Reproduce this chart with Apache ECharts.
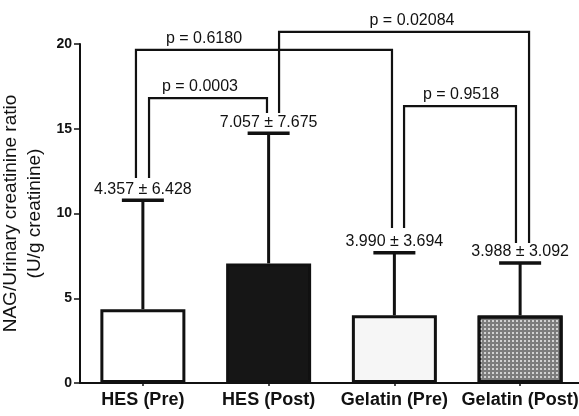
<!DOCTYPE html>
<html><head><meta charset="utf-8">
<script src="https://cdn.jsdelivr.net/npm/echarts@6/dist/echarts.min.js"></script>
<style>html,body{margin:0;padding:0;background:#fff}#c{width:579px;height:416px}</style>
</head><body><div id="c"></div>
<script>
var categories = ['HES (Pre)', 'HES (Post)', 'Gelatin (Pre)', 'Gelatin (Post)'];
var means = [4.357, 7.057, 3.990, 3.988];
var sds = [6.428, 7.675, 3.694, 3.092];
var barColors = ['#ffffff', '#161616', '#f6f6f6', '#7c7c7c'];
var yTicks = [0, 5, 10, 15, 20];
// brackets: [leftX, rightX, topY, leftBottomY, rightBottomY, labelX]
var bracketGeom = [
  [-0.055, 1.981, 19.65, 12.09, 9.14, 0.486],
  [0.049, 0.987, 16.81, 12.09, 15.93, 0.454],
  [1.083, 3.071, 20.71, 15.93, 8.26, 2.140],
  [2.077, 2.967, 16.34, 9.14, 8.26, 2.530]
];
var bracketLabels = ['p = 0.6180', 'p = 0.0003', 'p = 0.02084', 'p = 0.9518'];

var chart = echarts.init(document.getElementById('c'));
var font = 'Liberation Sans, Arial, sans-serif';

var barData = means.map(function (m, i) {
  var item = { value: m, itemStyle: { color: barColors[i] } };
  if (i === 3) {
    item.itemStyle.decal = { symbol: 'rect', symbolSize: 1, color: 'rgba(230,230,230,0.8)', dashArrayX: [2, 2], dashArrayY: [2, 2], rotation: 0 };
  }
  return item;
});

var errData = means.map(function (m, i) { return [i, m, m + sds[i], means[i].toFixed(3) + ' \u00b1 ' + sds[i].toFixed(3)]; });

chart.setOption({
  animation: false,
  grid: { left: 80, right: -4, top: 44, bottom: 33, containLabel: false, outerBoundsMode: 'none' },
  xAxis: [{
    type: 'category', data: categories,
    axisLine: { lineStyle: { color: '#111', width: 2 } },
    axisTick: { show: true, alignWithLabel: true, length: 3, lineStyle: { color: '#111', width: 1.5 } },
    axisLabel: { color: '#111', fontFamily: font, fontWeight: 'bold', fontSize: 18, margin: 8, interval: 0 }
  }, {
    type: 'value', min: -0.5, max: 3.5, show: false, gridIndex: 0
  }],
  yAxis: {
    type: 'value', min: 0, max: 20, interval: 5,
    name: 'NAG/Urinary creatinine ratio\n(U/g creatinine)',
    nameLocation: 'middle', nameGap: 33, nameRotate: 90, nameMoveOverlap: false,
    nameTextStyle: { color: '#111', fontFamily: font, fontSize: 19, lineHeight: 24, padding: [6, 0, 0, 0] },
    axisLine: { show: true, onZero: false, lineStyle: { color: '#111', width: 2 } },
    axisTick: { show: true, length: 6, lineStyle: { color: '#111', width: 1.5 } },
    splitLine: { show: false },
    axisLabel: { color: '#111', fontFamily: font, fontSize: 14, fontWeight: 'bold', margin: 8 }
  },
  series: [{
    type: 'bar', data: barData, barWidth: 85, xAxisIndex: 0,
    itemStyle: { borderColor: '#111', borderWidth: 3 },
    z: 2
  }, {
    type: 'custom', xAxisIndex: 0, data: errData, z: 3,
    renderItem: function (params, api) {
      var x = api.value(0);
      var b = api.coord([x, api.value(1)]);
      var t = api.coord([x, api.value(2)]);
      return { type: 'group', children: [
        { type: 'line', shape: { x1: b[0], y1: b[1], x2: t[0], y2: t[1] }, style: { stroke: '#111', lineWidth: 3 } },
        { type: 'line', shape: { x1: t[0] - 21, y1: t[1], x2: t[0] + 21, y2: t[1] }, style: { stroke: '#111', lineWidth: 3.5 } },
        { type: 'text', x: t[0], y: t[1] - 3, style: { text: errData[params.dataIndex][3], fill: '#111', font: '16px ' + font, align: 'center', verticalAlign: 'bottom' } }
      ] };
    }
  }, {
    type: 'custom', xAxisIndex: 1, clip: false, z: 1,
    data: bracketGeom.map(function (g, i) { return [g[0], g[1], g[2], g[3], g[4], g[5], i]; }),
    renderItem: function (params, api) {
      var tl = api.coord([api.value(0), api.value(2)]);
      var tr = api.coord([api.value(1), api.value(2)]);
      var bl = api.coord([api.value(0), api.value(3)]);
      var br = api.coord([api.value(1), api.value(4)]);
      var lp = api.coord([api.value(5), api.value(2)]);
      return { type: 'group', children: [
        { type: 'polyline', shape: { points: [bl, tl, tr, br] }, style: { stroke: '#111', lineWidth: 2.2, fill: null } },
        { type: 'text', x: lp[0], y: lp[1] - 3, style: { text: bracketLabels[params.dataIndex], fill: '#111', font: '16px ' + font, align: 'center', verticalAlign: 'bottom' } }
      ] };
    }
  }]
});
</script>
</body></html>
